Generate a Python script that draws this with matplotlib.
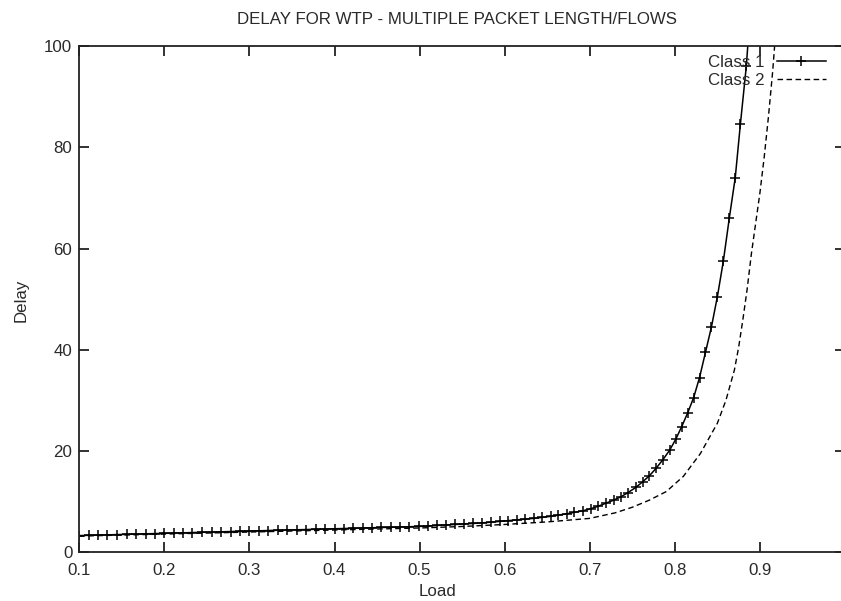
import matplotlib
matplotlib.use("Agg")
import matplotlib.pyplot as plt

plt.rcParams['font.family'] = ['Liberation Sans', 'DejaVu Sans']

title = "DELAY FOR WTP - MULTIPLE PACKET LENGTH/FLOWS"
x_label = "Load"
y_label = "Delay"
x_ticks = [0.1, 0.2, 0.3, 0.4, 0.5, 0.6, 0.7, 0.8, 0.9]
x_tick_labels = ["0.1", "0.2", "0.3", "0.4", "0.5", "0.6", "0.7", "0.8", "0.9"]
y_ticks = [0, 20, 40, 60, 80, 100]
y_tick_labels = ["0", "20", "40", "60", "80", "100"]

# Class 1: sampled loads and measured delay
class1_load = [
    0.100, 0.111, 0.122, 0.133, 0.144, 0.156, 0.167, 0.178, 0.189, 0.200,
    0.211, 0.222, 0.233, 0.244, 0.256, 0.267, 0.278, 0.289, 0.300, 0.311,
    0.322, 0.333, 0.344, 0.356, 0.367, 0.378, 0.389, 0.400, 0.411, 0.422,
    0.433, 0.444, 0.455, 0.466, 0.477, 0.488, 0.499, 0.510, 0.520, 0.531,
    0.542, 0.552, 0.563, 0.573, 0.584, 0.594, 0.604, 0.614, 0.624, 0.634,
    0.644, 0.654, 0.663, 0.673, 0.682, 0.692, 0.701, 0.710, 0.719, 0.728,
    0.737, 0.745, 0.754, 0.762, 0.770, 0.778, 0.786, 0.794, 0.801, 0.808,
    0.815, 0.822, 0.829, 0.836, 0.843, 0.850, 0.857, 0.864, 0.871, 0.877,
    0.884, 0.890,
]
class1_delay = [
    3.30, 3.35, 3.40, 3.45, 3.50, 3.55, 3.60, 3.65, 3.70, 3.75,
    3.80, 3.85, 3.90, 3.95, 4.00, 4.05, 4.10, 4.15, 4.20, 4.25,
    4.30, 4.35, 4.40, 4.45, 4.50, 4.55, 4.60, 4.65, 4.70, 4.75,
    4.80, 4.85, 4.90, 4.95, 5.00, 5.05, 5.10, 5.20, 5.30, 5.40,
    5.50, 5.60, 5.70, 5.80, 5.95, 6.10, 6.25, 6.40, 6.55, 6.70,
    6.90, 7.10, 7.35, 7.60, 7.90, 8.20, 8.60, 9.10, 9.70, 10.3,
    11.0, 11.8, 12.8, 13.9, 15.1, 16.6, 18.3, 20.2, 22.3, 24.8,
    27.5, 30.5, 34.5, 39.5, 44.5, 50.5, 57.5, 66.0, 74.0, 84.5,
    96.0, 110.0,
]

# Class 2: sampled loads and measured delay
class2_load = [
    0.10, 0.20, 0.30, 0.40, 0.50, 0.55, 0.60, 0.65, 0.70, 0.73,
    0.75, 0.77, 0.79, 0.81, 0.83, 0.85, 0.86, 0.87, 0.875, 0.88,
    0.885, 0.89, 0.895, 0.90, 0.905, 0.91, 0.915, 0.92,
]
class2_delay = [
    3.2, 3.6, 4.0, 4.4, 4.8, 5.1, 5.5, 6.0, 6.7, 7.8,
    8.9, 10.3, 12.0, 15.0, 19.5, 25.5, 30.0, 36.0, 40.5, 46.0,
    52.0, 59.0, 65.0, 71.0, 78.0, 86.0, 95.0, 106.0,
]

W, H = 841, 601
FS = 12.2
TXT = "#2a2a2a"
fig = plt.figure(figsize=(W / 100, H / 100), dpi=100)
left, right, bottom, top = 79.3, 845.0, 552.3, 46.0
ax = fig.add_axes([left / W, 1 - bottom / H, (right - left) / W, (bottom - top) / H])

ax.plot(class1_load, class1_delay, color="black", lw=1.1, marker="+",
        markersize=7.5, markeredgewidth=1.1, label="Class 1")
ax.plot(class2_load, class2_delay, color="black", lw=1.0, linestyle=(0, (4, 2.5)),
        label="Class 2")

ax.set_xlim(0.1, 1.0)
ax.set_ylim(0, 100)
ax.set_xticks(x_ticks)
ax.set_xticklabels(x_tick_labels)
ax.set_yticks(y_ticks)
ax.set_yticklabels(y_tick_labels)
ax.tick_params(direction="in", length=7, width=1.3, top=True, right=True,
               labelsize=FS, colors="#222222", labelcolor=TXT)
ax.tick_params(axis="x", pad=8)
ax.tick_params(axis="y", pad=5)
for s in ax.spines.values():
    s.set_linewidth(1.3)
    s.set_color("#222222")

fig.text(457.5 / W, 1 - 20 / H, title, ha="center", va="center", fontsize=FS, color=TXT)
fig.text(437 / W, 1 - 592 / H, x_label, ha="center", va="center", fontsize=FS, color=TXT)
fig.text(21 / W, 1 - 300 / H, y_label, ha="center", va="center", fontsize=FS,
         rotation=90, color=TXT)

leg = ax.legend(loc="upper right", bbox_to_anchor=(826 / W, 1 - 55 / H),
                bbox_transform=fig.transFigure, frameon=False, markerfirst=False,
                handlelength=2.9, handletextpad=0.7, labelspacing=0.16,
                borderpad=0, borderaxespad=0, numpoints=1, fontsize=FS)
for t in leg.get_texts():
    t.set_color(TXT)

fig.savefig("out.png", dpi=100)
